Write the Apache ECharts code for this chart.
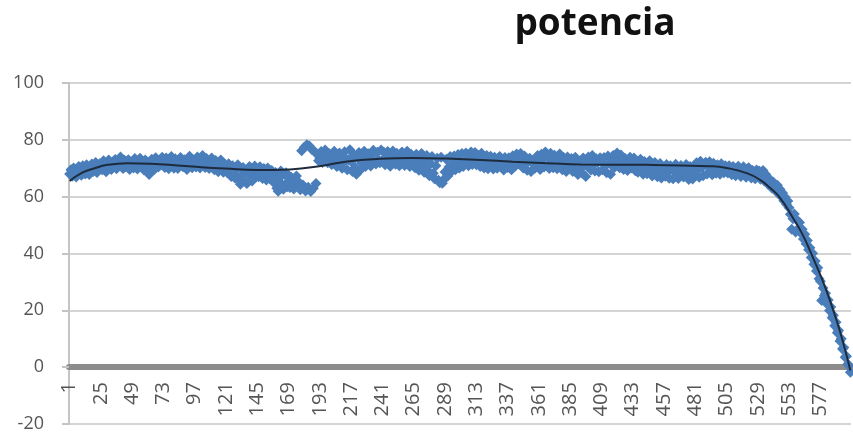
<!DOCTYPE html>
<html>
<head>
<meta charset="utf-8">
<script src="https://cdn.jsdelivr.net/npm/echarts@6/dist/echarts.min.js"></script>
<style>
  html, body { margin: 0; padding: 0; background: #fff; }
  #potencia-chart { width: 853px; height: 438px; }
</style>
</head>
<body>
<div id="potencia-chart"></div>
<script>
// valores, 24 por fila (1..600)
const potencia = [
  68.0, 69.5, 67.2, 70.1, 68.6, 66.9, 69.8, 70.6, 68.2, 67.5, 70.9, 69.1, 68.0, 71.2, 69.6, 67.8, 70.4, 71.5, 68.9, 69.7, 72.0, 68.5, 70.2, 71.6,
  71.3, 69.5, 72.6, 70.2, 68.8, 71.9, 72.9, 70.4, 69.6, 72.2, 71.0, 73.1, 69.8, 70.7, 72.5, 74.0, 71.2, 69.9, 72.8, 70.5, 71.8, 73.0, 69.6, 71.4,
  72.3, 70.1, 73.4, 71.0, 69.7, 72.6, 73.5, 70.6, 71.8, 69.4, 72.9, 71.5, 68.9, 67.8, 70.8, 73.2, 71.3, 69.6, 73.7, 72.0, 70.4, 72.8, 71.1, 73.9,
  72.5, 70.3, 73.6, 71.7, 69.8, 72.9, 74.1, 71.2, 70.0, 73.3, 72.4, 69.9, 71.6, 73.8, 72.1, 70.5, 73.0, 71.4, 69.6, 72.7, 74.2, 71.0, 70.2, 72.9,
  72.6, 70.4, 74.0, 71.5, 70.1, 73.7, 74.5, 71.8, 70.3, 73.4, 72.2, 69.9, 72.8, 73.6, 70.6, 69.5, 72.7, 71.3, 68.8, 71.9, 72.9, 70.0, 68.6, 71.5,
  70.2, 68.4, 71.6, 69.0, 67.1, 70.9, 68.2, 66.5, 69.8, 71.2, 66.0, 64.4, 67.5, 70.3, 68.9, 65.2, 64.6, 68.0, 70.6, 67.3, 65.5, 69.4, 70.8, 67.0,
  69.6, 67.0, 70.5, 68.3, 66.4, 69.9, 67.5, 65.9, 70.1, 68.7, 66.2, 69.2, 67.6, 64.8, 68.5, 63.0, 61.9, 66.7, 69.0, 64.3, 62.6, 67.8, 68.4, 63.5,
  65.4, 63.2, 66.8, 64.5, 62.7, 66.1, 67.3, 63.6, 65.0, 62.4, 76.2, 64.1, 77.4, 62.0, 78.3, 63.3, 77.8, 61.8, 76.5, 63.0, 75.9, 64.6, 74.8, 72.6,
  73.5, 75.9, 72.0, 74.6, 76.4, 72.8, 71.9, 75.2, 73.8, 71.3, 74.9, 76.0, 72.5, 70.6, 73.6, 75.4, 71.2, 70.0, 74.1, 75.8, 72.7, 69.5, 73.0, 76.5,
  72.4, 68.9, 74.8, 70.3, 67.9, 73.6, 75.5, 69.4, 71.8, 74.2, 76.0, 70.6, 72.9, 75.1, 73.4, 70.8, 74.7, 76.3, 72.2, 71.5, 75.6, 73.0, 71.9, 76.4,
  72.7, 75.6, 71.2, 73.9, 75.9, 72.2, 70.7, 74.5, 76.1, 72.9, 71.4, 75.3, 73.6, 70.9, 74.8, 75.7, 72.3, 71.0, 74.2, 76.0, 73.1, 70.6, 74.9, 72.5,
  73.8, 70.2, 74.9, 72.1, 69.3, 73.4, 75.2, 70.5, 68.6, 72.8, 74.5, 69.0, 67.4, 71.6, 74.1, 68.2, 66.3, 70.9, 73.5, 65.8, 64.9, 73.9, 64.7, 66.0,
  68.7, 73.2, 67.2, 70.4, 74.1, 68.9, 71.6, 74.3, 69.5, 72.0, 74.8, 70.1, 72.9, 75.2, 70.6, 71.8, 75.4, 73.1, 70.9, 74.6, 75.7, 71.3, 72.8, 75.5,
  71.2, 74.7, 72.9, 70.6, 75.3, 73.4, 70.1, 72.6, 74.5, 69.8, 71.7, 74.2, 72.8, 69.7, 73.9, 71.3, 70.0, 73.6, 74.1, 70.4, 72.2, 69.4, 73.8, 71.0,
  70.3, 73.7, 71.9, 69.5, 74.4, 72.6, 70.8, 75.0, 73.1, 71.4, 75.2, 72.0, 70.1, 74.3, 71.6, 69.3, 72.9, 73.5, 68.9, 71.8, 72.4, 70.0, 73.2, 74.5,
  72.1, 69.6, 74.9, 73.2, 70.4, 75.7, 74.1, 71.0, 69.9, 75.3, 72.7, 70.2, 74.6, 73.5, 69.8, 72.3, 75.0, 71.4, 69.5, 73.8, 72.2, 68.9, 74.0, 71.1,
  70.6, 73.4, 68.9, 71.8, 73.9, 69.2, 67.8, 72.5, 70.1, 68.3, 73.6, 71.2, 67.1, 70.7, 74.0, 72.3, 69.4, 74.5, 71.6, 69.0, 73.3, 72.0, 68.8, 73.7,
  72.4, 69.5, 73.8, 70.9, 68.4, 74.3, 71.7, 67.9, 72.6, 74.5, 70.3, 73.1, 75.4, 71.9, 70.2, 74.7, 72.8, 69.6, 73.5, 71.0, 69.2, 72.7, 73.9, 70.1,
  70.8, 73.6, 69.1, 72.2, 68.6, 71.5, 73.2, 69.4, 67.9, 72.4, 70.6, 68.1, 71.9, 72.6, 69.0, 67.3, 71.2, 72.0, 68.2, 67.0, 70.5, 71.7, 66.6, 69.3,
  70.4, 67.2, 71.3, 68.6, 66.5, 70.9, 69.7, 66.3, 68.9, 71.4, 67.5, 66.4, 70.2, 71.0, 68.1, 66.9, 69.8, 71.3, 67.4, 66.0, 70.6, 69.2, 66.2, 70.8,
  68.3, 71.9, 69.6, 66.8, 72.5, 70.2, 67.4, 71.5, 72.1, 68.0, 70.7, 72.3, 69.0, 67.7, 71.8, 70.4, 68.2, 71.2, 69.5, 67.9, 71.6, 70.1, 68.4, 70.9,
  70.4, 68.3, 70.9, 69.1, 67.7, 70.6, 69.8, 67.4, 68.6, 70.7, 69.3, 67.1, 68.9, 70.5, 68.0, 66.8, 69.7, 70.2, 67.5, 66.6, 69.2, 68.4, 66.3, 69.4,
  67.6, 69.0, 66.1, 68.4, 69.2, 65.5, 67.9, 66.4, 64.3, 66.2, 64.8, 63.0, 65.1, 63.7, 61.9, 64.0, 60.9, 62.6, 60.1, 61.3, 58.6, 59.8, 57.3, 58.5,
  56.1, 53.8, 48.5, 52.2, 53.9, 47.6, 51.8, 48.7, 50.9, 47.2, 48.5, 45.1, 46.8, 43.4, 44.6, 41.3, 42.0, 38.6, 40.1, 36.2, 37.4, 33.8, 35.0, 31.1,
  30.2, 23.5, 27.9, 25.1, 26.0, 22.3, 23.6, 19.9, 21.2, 17.4, 18.3, 14.6, 15.8, 12.1, 12.9, 9.2, 10.0, 6.4, 6.9, 3.5, 3.8, 1.0, 0.6, -1.8
];

// linea de tendencia (polinomica), [muestra, valor]
const tendencia = [
  [1, 65.5], [10, 68.3], [19, 69.8], [30, 71.2], [45, 71.8], [70, 71.4], [95, 70.6],
  [120, 69.9], [145, 69.4], [170, 69.6], [195, 70.9], [214, 72.4], [239, 73.3],
  [264, 73.6], [290, 73.4], [316, 72.9], [341, 72.3], [367, 71.8], [393, 71.3],
  [444, 71.2], [492, 70.7], [505, 70.1], [521, 68.2], [531, 65.8], [538, 63.2],
  [546, 59.6], [556, 52.5], [563, 47.0], [569, 41.0], [576, 33.5], [582, 26.5],
  [588, 18.5], [594, 9.5], [600, -1.2]
];

const muestras = potencia.map((v, i) => String(i + 1));
const yTicks = { min: -20, max: 100, step: 20 };

const gridTop = 83;
const gridBottom = 14;
const plotH = 438 - gridTop - gridBottom;
// el eje de categorias cruza en 0: se sube desde el borde inferior
const zeroOffset = -plotH * (0 - yTicks.min) / (yTicks.max - yTicks.min);

const chart = echarts.init(document.getElementById('potencia-chart'));
chart.setOption({
    animation: false,
    title: {
        text: 'potencia',
        left: 590,
        top: 1,
        textAlign: 'center',
        textStyle: {
            fontFamily: 'Open Sans',
            fontWeight: 'bold',
            fontSize: 37,
            color: '#111'
        }
    },
    grid: {
        left: 69,
        right: 2,
        top: gridTop,
        bottom: gridBottom,
        containLabel: false,
        outerBoundsMode: 'none'
    },
    xAxis: {
        type: 'category',
        data: muestras,
        boundaryGap: true,
        offset: zeroOffset,
        axisLine: {
            onZero: false,
            lineStyle: { color: '#8c8c8c', width: 6 }
        },
        axisTick: { show: false },
        splitLine: { show: false },
        axisLabel: {
            interval: 23,
            rotate: 90,
            margin: 15,
            fontFamily: 'Open Sans',
            fontSize: 20,
            color: '#555'
        }
    },
    yAxis: {
        type: 'value',
        min: yTicks.min,
        max: yTicks.max,
        interval: yTicks.step,
        axisLine: {
            show: true,
            lineStyle: { color: '#c4c4c4', width: 2 }
        },
        axisTick: {
            show: true,
            length: 7,
            lineStyle: { color: '#c4c4c4', width: 2 }
        },
        splitLine: {
            lineStyle: { color: '#d4d4d4', width: 2 }
        },
        axisLabel: {
            margin: 25,
            fontFamily: 'Open Sans',
            fontSize: 18,
            color: '#555'
        }
    },
    series: [
        {
            name: 'potencia',
            type: 'scatter',
            symbol: 'diamond',
            symbolSize: 11,
            itemStyle: { color: '#4a7ebb', opacity: 1 },
            data: potencia,
            z: 2
        },
        {
            name: 'tendencia',
            type: 'line',
            smooth: true,
            showSymbol: false,
            lineStyle: { color: '#1e2b3c', width: 2 },
            data: tendencia.map(p => [p[0] - 1, p[1]]),
            z: 3
        }
    ]
});
</script>
</body>
</html>
